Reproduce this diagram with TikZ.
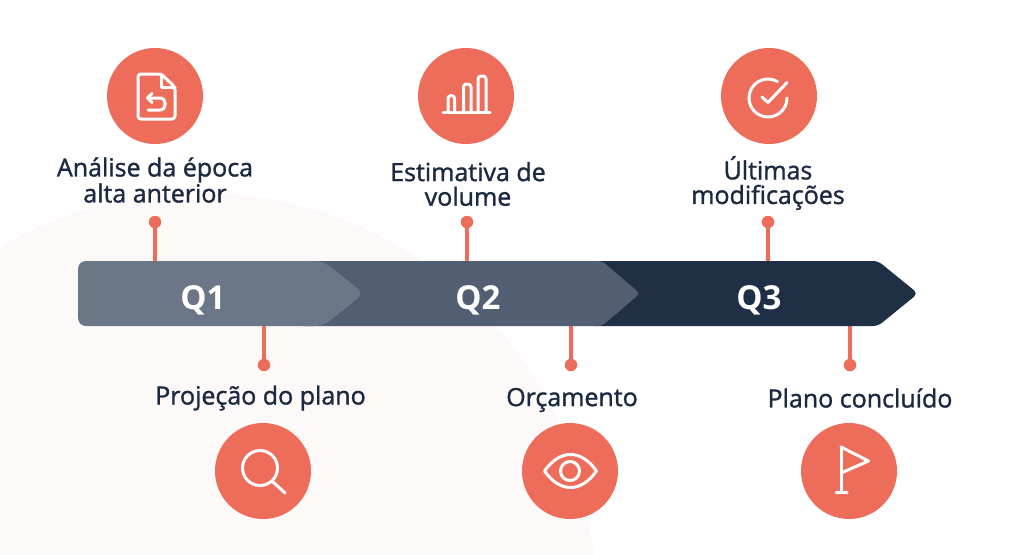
\documentclass[tikz,border=0pt]{standalone}
\usepackage{fontspec}
\setmainfont{Open Sans}[BoldFont={Open Sans},BoldFeatures={FakeBold=1.3}]
\newfontfamily\qfont{Open Sans}
\definecolor{coral}{HTML}{EE6D5A}
\definecolor{navy}{HTML}{1F2F46}
\definecolor{inktext}{HTML}{1B2A41}
\definecolor{slateA}{HTML}{6B7787}
\definecolor{slateB}{HTML}{525E71}
\definecolor{blob}{HTML}{FDF9F8}
\tikzset{
  badge/.style={circle,fill=coral,draw=none,minimum size=96pt,inner sep=0pt},
  pin/.style={circle,fill=coral,draw=none,minimum size=12.5pt,inner sep=0pt},
  stem/.style={draw=coral,line width=3.6pt},
  lbl/.style={text=inktext,align=center,font=\fontsize{25}{24.6}\selectfont\bfseries,inner sep=0pt},
  qlbl/.style={text=white,font=\fontsize{33}{35}\selectfont\qfont\bfseries,inner sep=0pt},
  icon/.style={draw=white,line width=3pt,line cap=round,line join=round},
}
\begin{document}
\begin{tikzpicture}[x=1pt,y=-1pt]
\useasboundingbox (0,0) rectangle (1024,554);
\fill[white] (0,0) rectangle (1024,554);
\begin{scope}
\clip (0,0) rectangle (1024,554);
\fill[blob] (200,588) circle[radius=395];
\end{scope}

% connector ends on the bar
\coordinate (t1) at (155,263);
\coordinate (t2) at (467,263);
\coordinate (t3) at (768,263);
\coordinate (b1) at (264,324);
\coordinate (b2) at (571,324);
\coordinate (b3) at (850,324);

\node[pin] (p1) at (155,222) {};
\node[pin] (p2) at (467,222) {};
\node[pin] (p3) at (768,222) {};
\node[pin] (p4) at (264,365) {};
\node[pin] (p5) at (571,365) {};
\node[pin] (p6) at (850,365) {};
\draw[stem] (p1) -- (t1);
\draw[stem] (p2) -- (t2);
\draw[stem] (p3) -- (t3);
\draw[stem] (p4) -- (b1);
\draw[stem] (p5) -- (b2);
\draw[stem] (p6) -- (b3);

% bar
\fill[navy,rounded corners=5pt] (590,261) -- (878,261) -- (918,293.5) -- (878,326) -- (590,326) -- cycle;
\fill[slateB,rounded corners=4pt] (300,261) -- (602,261) -- (640,293.5) -- (602,326) -- (300,326) -- cycle;
\fill[slateA,rounded corners=8pt] (78,261) -- (323,261) -- (364,293.5) -- (323,326) -- (78,326) -- cycle;

\node[qlbl] (q1) at (203,300) {Q1};
\node[qlbl] (q2) at (478,300) {Q2};
\node[qlbl] (q3) at (759,300) {Q3};

% badges
\node[badge] (c1) at (155,96) {};
\node[badge] (c2) at (466,96) {};
\node[badge] (c3) at (769,96) {};
\node[badge] (c4) at (263,471) {};
\node[badge] (c5) at (570,471) {};
\node[badge] (c6) at (849,471) {};

% labels
\node[lbl] (l1) at (155,180) {Análise da época\\alta anterior};
\node[lbl] (l2) at (468,184) {Estimativa de\\volume};
\node[lbl] (l3) at (768,183) {Últimas\\modificações};
\node[lbl] (l4) at (260.5,398) {Projeção do plano};
\node[lbl] (l5) at (572,400) {Orçamento};
\node[lbl] (l6) at (860,398) {Plano concluído};

% file icon
\draw[icon,rounded corners=3pt] (161,74) -- (138,74) -- (138,119) -- (175,119) -- (175,87) -- cycle;
\draw[icon] (161,74) -- (161,87) -- (175,87);
\draw[icon] (152,93.5) -- (147.5,98) -- (152,102.5);
\draw[icon] (147.5,98) -- (160,98) .. controls (167,98) and (167,110) .. (160,110) -- (148,110);
% chart icon
\draw[icon] (443,112) -- (490,112);
\draw[icon,rounded corners=3pt] (448,112) -- (448,95.5) -- (454.5,95.5) -- (454.5,112);
\draw[icon,rounded corners=3pt] (463.5,112) -- (463.5,84) -- (471,84) -- (471,112);
\draw[icon,rounded corners=3pt] (478,112) -- (478,76) -- (486,76) -- (486,112);
% check icon
\draw[icon] (787,98) arc[start angle=0,end angle=300,radius=19];
\draw[icon] (762,97) -- (768,102.5) -- (787,82.5);
% search icon
\draw[icon] (260,468) circle[radius=17.5];
\draw[icon] (273,482) -- (285,493);
% eye icon
\draw[icon] (544.5,471) .. controls (560,449) and (581,449) .. (596.5,471) .. controls (581,493) and (560,493) .. (544.5,471) -- cycle;
\draw[icon] (570,471) circle[radius=9.5];
% flag icon
\draw[icon] (841,447) -- (841,492);
\draw[icon] (836,492) -- (847,492);
\draw[icon] (841,447) -- (868.5,461) -- (841,473);
\end{tikzpicture}
\end{document}
